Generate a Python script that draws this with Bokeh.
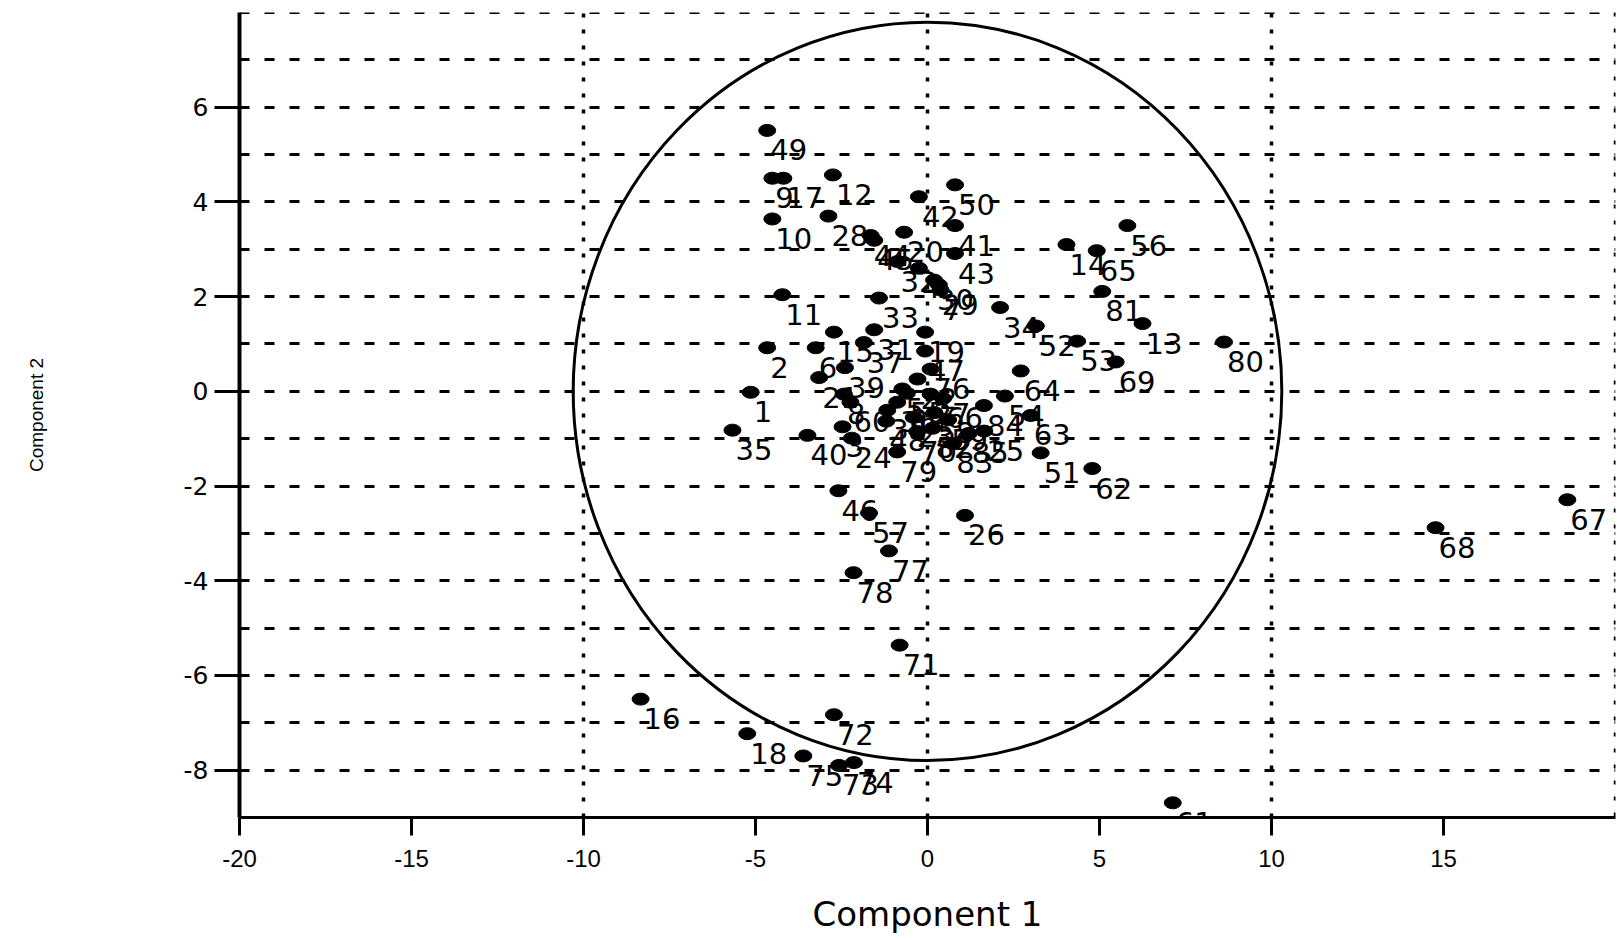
from bokeh.plotting import figure
from bokeh.models import Range1d, FixedTicker, ColumnDataSource, LabelSet, Span
from bokeh.core.properties import value
from bokeh.embed import file_html
from bokeh.resources import INLINE

# ---- data ----
labels = ["1", "2", "6", "9", "10", "11", "12", "13", "14", "15", "16", "17", "18", "19", "20",
          "21", "24", "26", "28", "31", "33", "34", "35", "37", "39", "40", "41", "42", "43",
          "46", "47", "49", "50", "51", "52", "53", "54", "56", "57", "61", "62", "63", "64",
          "65", "67", "68", "69", "71", "72", "73", "74", "75", "76", "77", "78", "79", "80",
          "81", "84",
          "44", "45", "32", "4", "30", "29", "7",
          "3", "8", "60", "38", "36", "5", "55", "27", "22", "66", "48", "82", "85", "25",
          "83", "23", "58", "59", "70"]
comp1 = [-5.14, -4.66, -3.25, -4.51, -4.51, -4.22, -2.75, 6.25, 4.04, -2.72, -8.34, -4.19, -5.24, -0.07, -0.68,
         -3.15, -2.20, 1.09, -2.88, -1.55, -1.41, 2.11, -5.67, -1.85, -2.40, -3.49, 0.80, -0.25, 0.80,
         -2.59, -0.07, -4.66, 0.80, 3.29, 3.15, 4.35, 2.25, 5.81, -1.70, 7.13, 4.79, 3.00, 2.71,
         4.92, 18.60, 14.77, 5.47, -0.81, -2.72, -2.57, -2.14, -3.61, 0.09, -1.12, -2.15, -0.88, 8.62,
         5.08, 1.64,
         -1.65, -1.55, -0.87, -0.25, 0.19, 0.33, 0.38,
         -2.47, -2.43, -2.24, -1.17, -0.88, -0.73, -0.60, 0.09, -0.29, 0.45, -1.20, 0.15, 1.20, 1.65,
         0.75, -0.40, 0.20, 0.60, -0.30]
comp2 = [-0.02, 0.92, 0.92, 4.50, 3.64, 2.04, 4.57, 1.43, 3.10, 1.25, -6.50, 4.50, -7.23, 1.25, 3.36,
         0.29, -0.99, -2.62, 3.70, 1.30, 1.97, 1.77, -0.82, 1.03, 0.50, -0.93, 3.50, 4.11, 2.91,
         -2.10, 0.85, 5.51, 4.36, -1.30, 1.38, 1.06, -0.10, 3.50, -2.57, -8.69, -1.63, -0.51, 0.43,
         2.97, -2.29, -2.88, 0.62, -5.36, -6.83, -7.90, -7.84, -7.70, 0.47, -3.37, -3.83, -1.28, 1.04,
         2.11, -0.30,
         3.29, 3.19, 2.74, 2.60, 2.35, 2.25, 2.14,
         -0.75, -0.06, -0.23, -0.40, -0.23, 0.05, -0.04, -0.06, 0.26, -0.15, -0.63, -0.78, -0.89, -0.84,
         -1.10, -0.55, -0.45, -0.60, -0.85]

ellipse_center = (0.0, 0.0)
ellipse_semi_axes = (10.3, 7.8)

x_ticks = [-20, -15, -10, -5, 0, 5, 10, 15]
y_ticks = [-8, -6, -4, -2, 0, 2, 4, 6]
x_grid = [-10, 0, 10]
y_grid = list(range(-8, 8))
x_edge_line = 20
y_edge_line = 8

# ---- figure ----
p = figure(width=1618, height=936, x_range=Range1d(-20, 20), y_range=Range1d(-9, 8),
           output_backend="svg", toolbar_location=None,
           min_border_left=239, min_border_right=3, min_border_top=12, min_border_bottom=112)
p.outline_line_color = None
p.background_fill_color = "white"

# grids
p.xgrid.ticker = FixedTicker(ticks=x_grid)
p.xgrid.grid_line_color = "black"
p.xgrid.grid_line_dash = "4 12"
p.xgrid.grid_line_width = 3.5
p.ygrid.ticker = FixedTicker(ticks=y_grid)
p.ygrid.grid_line_color = "black"
p.ygrid.grid_line_dash = "10 15"
p.ygrid.grid_line_width = 3
p.add_layout(Span(location=x_edge_line, dimension="height", line_color="black",
                  line_dash="4 12", line_width=3.5, level="underlay"))
p.add_layout(Span(location=y_edge_line, dimension="width", line_color="black",
                  line_dash="10 15", line_width=3, level="underlay"))

# axes
p.xaxis.ticker = FixedTicker(ticks=x_ticks)
p.yaxis.ticker = FixedTicker(ticks=y_ticks)
p.xaxis.major_label_overrides = {t: str(t) for t in x_ticks}
p.yaxis.major_label_overrides = {t: str(t) for t in y_ticks}
for ax in (p.xaxis[0], p.yaxis[0]):
    ax.axis_line_color = "black"
    ax.major_tick_line_color = "black"
    ax.minor_tick_line_color = None
    ax.major_tick_in = 0
    ax.major_label_text_color = "black"
    ax.axis_label_text_font_style = "normal"
    ax.axis_label_text_color = "black"
p.yaxis.axis_line_width = 4
p.yaxis.major_tick_line_width = 3
p.yaxis.major_tick_out = 25
p.yaxis.major_label_standoff = 6
p.yaxis.major_label_text_font = "DejaVu Sans"
p.yaxis.major_label_text_font_size = "25px"
p.yaxis.axis_label = "Component 2"
p.yaxis.axis_label_text_font = "Liberation Sans"
p.yaxis.axis_label_text_font_size = "19px"
p.yaxis.axis_label_standoff = 134

p.xaxis.axis_line_width = 3
p.xaxis.major_tick_line_width = 3
p.xaxis.major_tick_out = 18
p.xaxis.major_label_standoff = 14
p.xaxis.major_label_text_font = "Liberation Sans"
p.xaxis.major_label_text_font_size = "24px"
p.xaxis.axis_label = "Component 1"
p.xaxis.axis_label_text_font = "DejaVu Sans"
p.xaxis.axis_label_text_font_size = "34px"
p.xaxis.axis_label_standoff = 24

# ellipse
p.ellipse(x=[ellipse_center[0]], y=[ellipse_center[1]],
          width=[2 * ellipse_semi_axes[0]], height=[2 * ellipse_semi_axes[1]],
          fill_color=None, line_color="black", line_width=3)

src = ColumnDataSource(dict(x=comp1, y=comp2, label=labels))
p.ellipse(x="x", y="y", width=17, height=12, width_units="screen", height_units="screen",
          source=src, fill_color="black", line_color="black")
p.add_layout(LabelSet(x="x", y="y", text="label", source=src, x_offset=3, y_offset=-30,
                      text_font=value("DejaVu Sans"), text_font_size=value("29px"),
                      text_baseline="alphabetic", text_align="left", text_color="black"))

open("out.html", "w").write(file_html(p, INLINE))
